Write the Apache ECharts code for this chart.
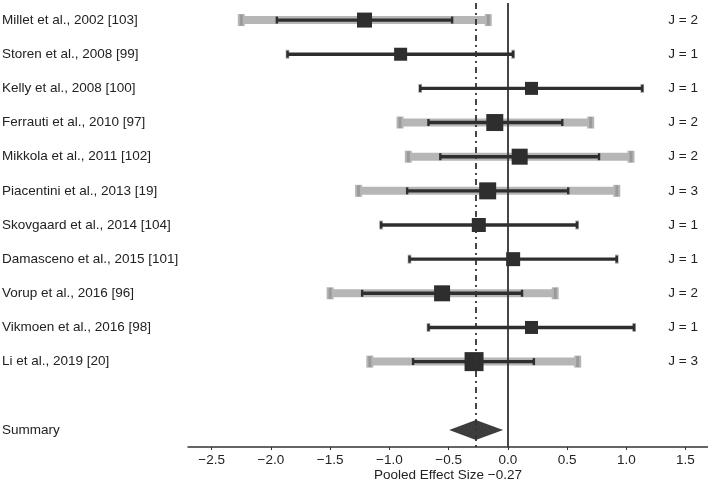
<!DOCTYPE html>
<html>
<head>
<meta charset="utf-8">
<script src="https://cdn.jsdelivr.net/npm/echarts@6/dist/echarts.min.js"></script>
<style>
  html, body { margin: 0; padding: 0; background: #fff; }
  #chart { width: 708px; height: 481px; }
</style>
</head>
<body>
<div id="chart"></div>
<script>
// studies, top to bottom
const studies = [
  'Millet et al., 2002 [103]',
  'Storen et al., 2008 [99]',
  'Kelly et al., 2008 [100]',
  'Ferrauti et al., 2010 [97]',
  'Mikkola et al., 2011 [102]',
  'Piacentini et al., 2013 [19]',
  'Skovgaard et al., 2014 [104]',
  'Damasceno et al., 2015 [101]',
  'Vorup et al., 2016 [96]',
  'Vikmoen et al., 2016 [98]',
  'Li et al., 2019 [20]'
];
// effect size per study
const effect = [-1.21, -0.905, 0.20, -0.11, 0.10, -0.17, -0.245, 0.045, -0.555, 0.20, -0.285];
// 95% interval (black)
const ciLow  = [-1.95, -1.86, -0.74, -0.67, -0.57, -0.85, -1.07, -0.83, -1.23, -0.67, -0.80];
const ciHigh = [-0.47, 0.045, 1.135, 0.46, 0.77, 0.51, 0.585, 0.92, 0.12, 1.066, 0.22];
// wider interval (grey), same as black when J = 1
const wideLow  = [-2.25, -1.86, -0.74, -0.91, -0.84, -1.26, -1.07, -0.83, -1.50, -0.67, -1.165];
const wideHigh = [-0.165, 0.045, 1.135, 0.70, 1.04, 0.92, 0.585, 0.92, 0.40, 1.066, 0.59];
// weight -> square size
const weight = [15, 13, 13, 17, 16, 17, 14, 14, 16, 13, 19];
const jCount = [2, 1, 1, 2, 2, 3, 1, 1, 2, 1, 3];
// pooled summary
const pooled = -0.27;
const pooledLow = -0.495;
const pooledHigh = -0.04;
const xTicks = [-2.5, -2.0, -1.5, -1.0, -0.5, 0.0, 0.5, 1.0, 1.5];

const rows = studies.concat(['', 'Summary']);
const jLabels = jCount.map(j => 'J = ' + j).concat(['', '']);

const FONT = 'Liberation Sans, Arial, sans-serif';
const DARK = '#2e2e2e';

const studyData = studies.map((s, i) =>
  [i, effect[i], ciLow[i], ciHigh[i], wideLow[i], wideHigh[i], weight[i], jCount[i]]);

function renderStudy(params, api) {
  const y = api.value(0);
  const pE = api.coord([api.value(1), y]);
  const pL = api.coord([api.value(2), y]);
  const pH = api.coord([api.value(3), y]);
  const gL = api.coord([api.value(4), y]);
  const gH = api.coord([api.value(5), y]);
  const s = api.value(6);
  const single = api.value(7) === 1;
  const cy = pE[1];
  const kids = [];
  // grey band (only when several estimates)
  if (!single) {
    kids.push({ type: 'rect', shape: { x: gL[0], y: cy - 4, width: gH[0] - gL[0], height: 8 },
      style: { fill: '#b6b6b6' } });
  }
  [gL[0], gH[0]].forEach(x => {
    if (single) {
      kids.push({ type: 'rect', shape: { x: x - 1.8, y: cy - 4.5, width: 3.6, height: 9 },
        style: { fill: '#aaa' } });
    } else {
      kids.push({ type: 'rect', shape: { x: x - 3.5, y: cy - 6, width: 7, height: 12 },
        style: { fill: '#b6b6b6' } });
      kids.push({ type: 'rect', shape: { x: x - 1.5, y: cy - 5.5, width: 3, height: 11 },
        style: { fill: '#9a9a9a' } });
    }
  });
  // black interval
  kids.push({ type: 'rect', shape: { x: pL[0], y: cy - 1.7, width: pH[0] - pL[0], height: 3.4 },
    style: { fill: DARK } });
  [pL[0], pH[0]].forEach(x => {
    kids.push({ type: 'rect', shape: { x: x - 1.2, y: cy - 3.5, width: 2.4, height: 7 },
      style: { fill: DARK } });
  });
  // square
  kids.push({ type: 'rect', shape: { x: pE[0] - s / 2, y: cy - s / 2, width: s, height: s },
    style: { fill: DARK } });
  return { type: 'group', children: kids };
}

function renderSummary(params, api) {
  const y = api.value(0);
  const c = api.coord([api.value(1), y]);
  const l = api.coord([api.value(2), y]);
  const h = api.coord([api.value(3), y]);
  return {
    type: 'polygon',
    shape: { points: [[l[0], c[1]], [c[0], c[1] - 10], [h[0], c[1]], [c[0], c[1] + 10]] },
    style: { fill: '#3d3d3d' }
  };
}

const chart = echarts.init(document.getElementById('chart'));
chart.setOption({
  backgroundColor: '#fff',
  animation: false,
  grid: { left: 188, right: 0, top: 3, bottom: 34, outerBoundsMode: 'none' },
  xAxis: {
    type: 'value',
    min: -2.7,
    max: 1.69,
    name: 'Pooled Effect Size \u22120.27',
    nameLocation: 'middle',
    nameGap: 21,
    nameMoveOverlap: false,
    nameTextStyle: { fontFamily: FONT, fontSize: 13.5, color: '#222', verticalAlign: 'top' },
    axisLine: { show: true, lineStyle: { color: '#333', width: 1.5 } },
    axisTick: { show: true, length: 3, customValues: xTicks, lineStyle: { color: '#333' } },
    axisLabel: {
      customValues: xTicks,
      margin: 6,
      fontFamily: FONT, fontSize: 13.5, color: '#222',
      formatter: v => (v < 0 ? '\u2212' : '') + Math.abs(v).toFixed(1)
    },
    splitLine: { show: false }
  },
  yAxis: [{
    type: 'category',
    data: rows,
    inverse: true,
    axisLine: { show: false },
    axisTick: { show: false },
    axisLabel: { align: 'left', margin: 186, fontFamily: FONT, fontSize: 13.5, color: '#222' },
    splitLine: { show: false }
  }, {
    type: 'category',
    data: jLabels,
    inverse: true,
    position: 'right',
    axisLine: { show: false },
    axisTick: { show: false },
    axisLabel: { inside: true, margin: 10, fontFamily: FONT, fontSize: 13.5, color: '#222' },
    splitLine: { show: false }
  }],
  series: [{
    type: 'custom',
    z: 1,
    data: [],
    renderItem: () => null,
    markLine: {
      symbol: 'none',
      silent: true,
      label: { show: false },
      data: [
        { xAxis: 0, lineStyle: { color: '#333', width: 1.8, type: 'solid' } },
        { xAxis: pooled, lineStyle: { color: '#333', width: 1.8, type: [6, 4, 2, 4] } }
      ]
    }
  }, {
    type: 'custom',
    z: 3,
    renderItem: renderStudy,
    encode: { x: [1, 2, 3, 4, 5], y: 0 },
    data: studyData
  }, {
    type: 'custom',
    z: 3,
    renderItem: renderSummary,
    encode: { x: [1, 2, 3], y: 0 },
    data: [[rows.length - 1, pooled, pooledLow, pooledHigh]]
  }]
});
</script>
</body>
</html>
